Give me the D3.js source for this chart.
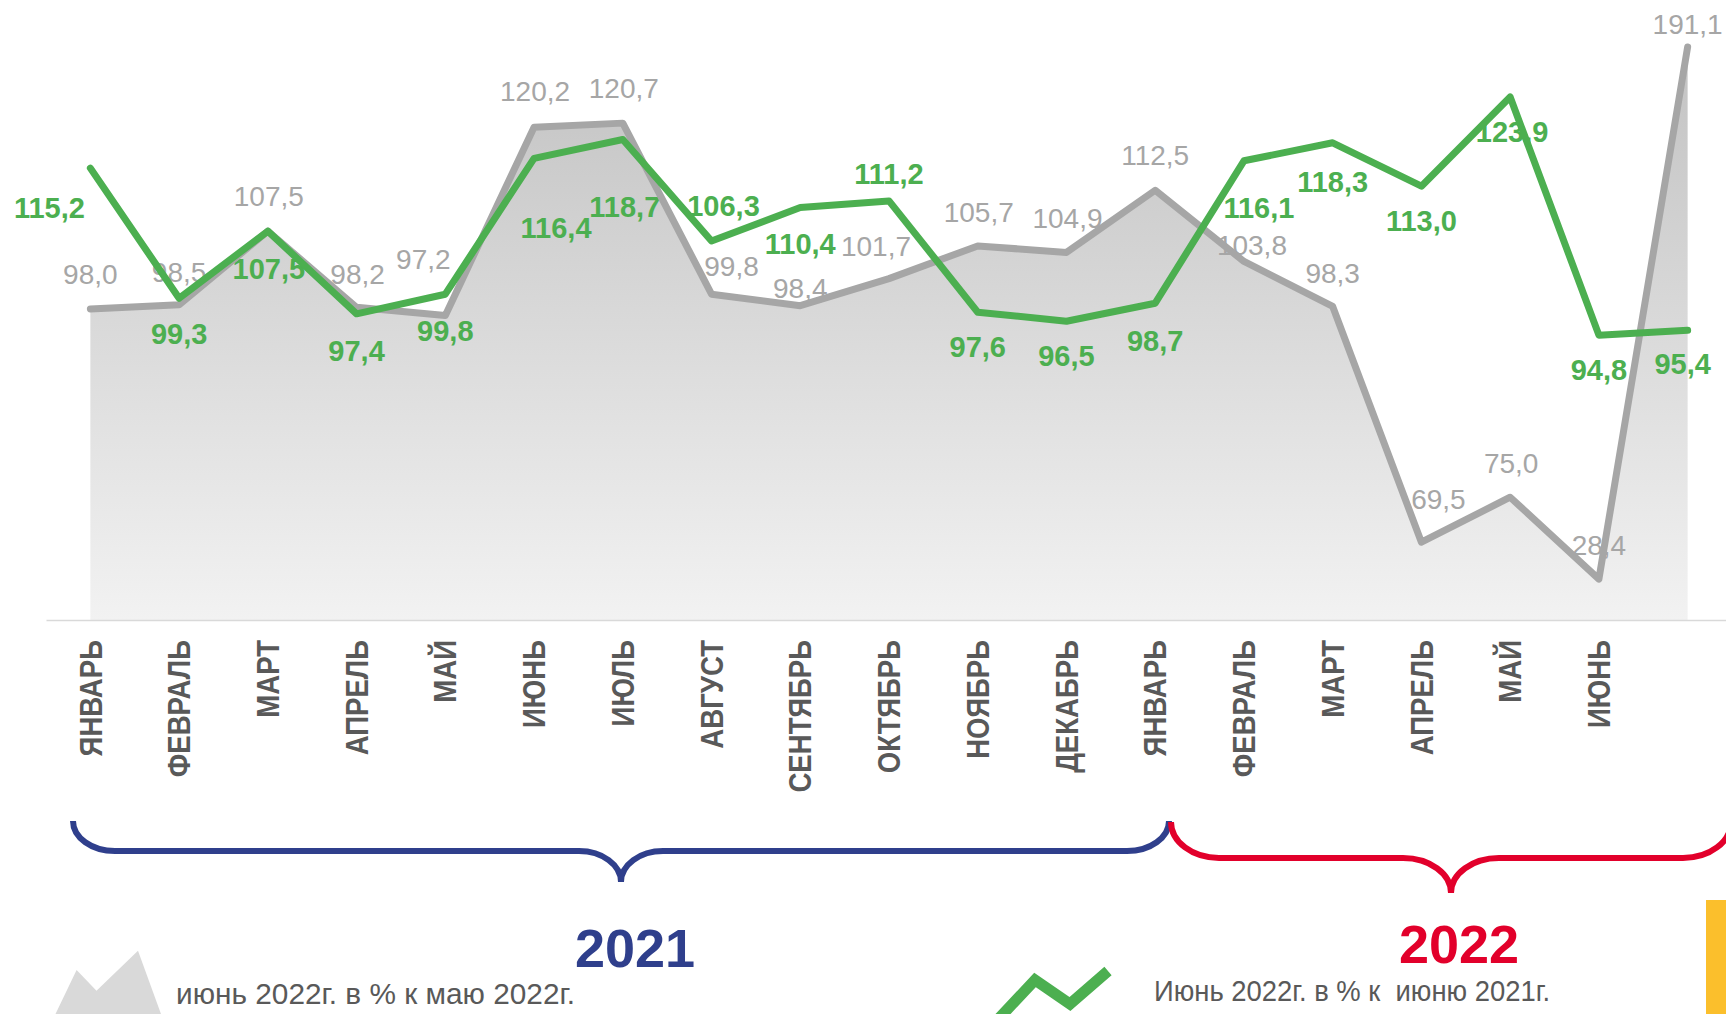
<!DOCTYPE html>
<html><head><meta charset="utf-8">
<script src="https://cdn.jsdelivr.net/npm/d3@7"></script>
<style>html,body{margin:0;padding:0;background:#fff;overflow:hidden}</style>
</head><body>
<svg id="chart" width="1726" height="1014"></svg>
<script>
// ---------- data ----------
const categories = ["ЯНВАРЬ","ФЕВРАЛЬ","МАРТ","АПРЕЛЬ","МАЙ","ИЮНЬ","ИЮЛЬ","АВГУСТ","СЕНТЯБРЬ","ОКТЯБРЬ","НОЯБРЬ","ДЕКАБРЬ","ЯНВАРЬ","ФЕВРАЛЬ","МАРТ","АПРЕЛЬ","МАЙ","ИЮНЬ"];
// gray series: values as labelled in the reference
const grayValues = [98.0,98.5,107.5,98.2,97.2,120.2,120.7,99.8,98.4,101.7,105.7,104.9,112.5,103.8,98.3,69.5,75.0,28.4,191.1];
// gray series: heights at which the reference actually draws it (last two points are drawn off their labels)
const grayPlotted = [98.0,98.5,107.5,98.2,97.2,120.2,120.7,99.8,98.4,101.7,105.7,104.9,112.5,103.8,98.3,69.5,75.0,65.0,130.0];
const greenValues = [115.2,99.3,107.5,97.4,99.8,116.4,118.7,106.3,110.4,111.2,97.6,96.5,98.7,116.1,118.3,113.0,123.9,94.8,95.4];
const years = ["2021","2022"];
const legendLabels = ["июнь 2022г. в % к маю 2022г.","Июнь 2022г. в % к  июню 2021г."];
const yDomain = [60,130];

// ---------- layout (label nudges, px) ----------
const grayNudge = [[0,-25],[0,-23],[1,-25],[1,-23],[-22,-46],[1,-26],[1,-25],[20,-18],[0,-8],[-13,-23],[1,-24],[1,-24],[0,-25],[8,-6],[0,-23],[17,-33],[1,-24],[0,-24],[0,-13]];
const greenNudge = [[-41,50],[0,46],[1,48],[0,47],[0,47],[22,80],[2,78],[12,-25],[0,47],[0,-17],[0,45],[0,45],[0,48],[15,57],[0,49],[0,45],[2,45],[0,45],[-5,44]];

const FONT = "'Liberation Sans', Arial, sans-serif";
const GRAY = "#a6a6a6", GREEN = "#4caf50", TEXT = "#595959", BLUE = "#2f3f8c", RED = "#e2002b";
const svg = d3.select("#chart");

const x = d3.scaleBand().domain(d3.range(greenValues.length)).range([46,1732]).padding(0);
const cx = i => x(i) + x.bandwidth()/2;
const y = d3.scaleLinear().domain(yDomain).range([620,47]);

const fmt = v => d3.format(".1f")(v).replace(".", ",");

// gradient
const defs = svg.append("defs");
const grad = defs.append("linearGradient").attr("id","areaGrad").attr("x1",0).attr("y1",0).attr("x2",0).attr("y2",1);
grad.append("stop").attr("offset","0%").attr("stop-color","#c2c2c2");
grad.append("stop").attr("offset","100%").attr("stop-color","#f2f2f2");

// area
const area = d3.area().x((d,i)=>cx(i)).y0(y(yDomain[0])).y1(d=>y(d));
svg.append("path").datum(grayPlotted).attr("d",area).attr("fill","url(#areaGrad)");

// axis
const axis = d3.axisBottom(x).tickSize(0).tickSizeOuter(0).tickFormat(i => categories[i] || "");
const gAxis = svg.append("g").attr("transform",`translate(0,${y(yDomain[0])})`).call(axis);
gAxis.select(".domain").attr("stroke","#d9d9d9").attr("stroke-width",1.5);
const sx = 0.89;
gAxis.selectAll(".tick text")
  .attr("x", -20/sx).attr("y",0).attr("dy","0.36em")
  .attr("transform",`rotate(-90) scale(${sx},1)`)
  .attr("text-anchor","end")
  .style("font-family",FONT).style("font-weight","bold").style("font-size","31px").attr("fill",TEXT);

// labels (drawn under the lines)
svg.append("g").selectAll("text").data(grayValues).join("text")
  .attr("x",(d,i)=>cx(i)+grayNudge[i][0])
  .attr("y",(d,i)=>y(grayPlotted[i])+grayNudge[i][1])
  .attr("text-anchor","middle")
  .style("font-family",FONT).style("font-size","28px").attr("fill",GRAY)
  .text(fmt);

svg.append("g").selectAll("text").data(greenValues).join("text")
  .attr("x",(d,i)=>cx(i)+greenNudge[i][0])
  .attr("y",(d,i)=>y(d)+greenNudge[i][1])
  .attr("text-anchor","middle")
  .style("font-family",FONT).style("font-weight","bold").style("font-size","29px").attr("fill",GREEN)
  .text(fmt);

// lines
const line = d3.line().x((d,i)=>cx(i)).y(d=>y(d));
svg.append("path").datum(grayPlotted).attr("d",line).attr("fill","none")
  .attr("stroke",GRAY).attr("stroke-width",7).attr("stroke-linejoin","round").attr("stroke-linecap","round");
svg.append("path").datum(greenValues).attr("d",line).attr("fill","none")
  .attr("stroke",GREEN).attr("stroke-width",7).attr("stroke-linejoin","round").attr("stroke-linecap","round");

// braces
function brace(x0,x1,top,mid,tip,rx){
  const c=(x0+x1)/2, ry1=mid-top, ry2=tip-mid;
  return `M${x0},${top} A${rx},${ry1} 0 0 0 ${x0+rx},${mid} L${c-rx},${mid} A${rx},${ry2} 0 0 1 ${c},${tip}`+
         ` A${rx},${ry2} 0 0 1 ${c+rx},${mid} L${x1-rx},${mid} A${rx},${ry1} 0 0 0 ${x1},${top}`;
}
svg.append("path").attr("d",brace(73,1169,821,851,882,42)).attr("fill","none").attr("stroke",BLUE).attr("stroke-width",6);
svg.append("path").attr("d",brace(1171,1731,822,858,893,48)).attr("fill","none").attr("stroke",RED).attr("stroke-width",6);

// years
svg.append("text").attr("x",635).attr("y",967).attr("text-anchor","middle")
  .style("font-family",FONT).style("font-weight","bold").style("font-size","54px").attr("fill",BLUE).text(years[0]);
svg.append("text").attr("x",1459).attr("y",963).attr("text-anchor","middle")
  .style("font-family",FONT).style("font-weight","bold").style("font-size","54px").attr("fill",RED).text(years[1]);

// legend icons
svg.append("path").attr("d","M55.5,1014 L76.6,970 L96.5,990.7 L138,950.7 L161,1014 Z").attr("fill","#d9d9d9");
svg.append("path").attr("d","M988,1030 L1035,980 L1070,1004 L1108,971").attr("fill","none")
  .attr("stroke",GREEN).attr("stroke-width",11).attr("stroke-linejoin","miter");
// legend texts
svg.append("text").attr("x",176).attr("y",1004).attr("textLength",399).attr("lengthAdjust","spacingAndGlyphs")
  .style("font-family",FONT).style("font-size","29.5px").style("white-space","pre").attr("fill",TEXT).text(legendLabels[0]);
svg.append("text").attr("x",1154).attr("y",1001).attr("textLength",396).attr("lengthAdjust","spacingAndGlyphs")
  .style("font-family",FONT).style("font-size","30px").style("white-space","pre").attr("fill",TEXT).text(legendLabels[1]);

// yellow side block
svg.append("rect").attr("x",1706).attr("y",900).attr("width",20).attr("height",114).attr("fill","#fbbf2c");
</script>
</body></html>
